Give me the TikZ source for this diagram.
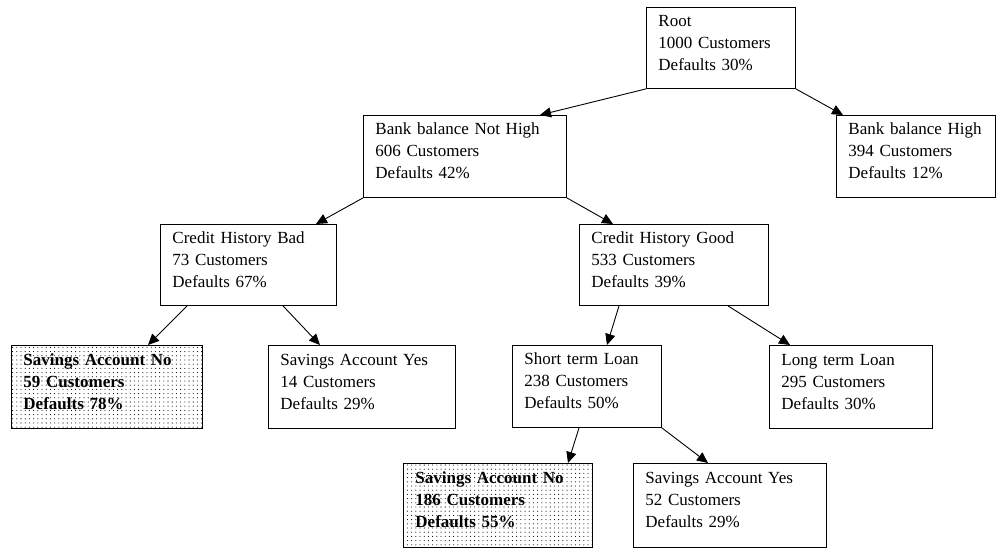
\documentclass[tikz,border=0pt]{standalone}
\usepackage{fontspec}
\setmainfont{Liberation Serif}
\usetikzlibrary{arrows.meta,patterns.meta,calc}
\begin{document}
\begin{tikzpicture}[x=1pt,y=-1pt,
  box/.style={draw=black, line width=0.9pt, rectangle, anchor=north west, inner xsep=12pt, inner ysep=0pt,
     align=left, font=\fontsize{17}{22}\selectfont, execute at end node={\rule[-11pt]{0pt}{1pt}}},
  leaf/.style={box, pattern={Dots[distance=4.2pt,radius=0.55pt]}, pattern color=black, font=\fontsize{17}{22}\selectfont\bfseries},
  conn/.style={draw=black, line width=0.9pt, -{Triangle[length=11pt,width=10pt]}}]
\useasboundingbox (0,0) rectangle (1001,549);
\node[box, minimum width=149pt, minimum height=81pt, text width=125pt] (root) at (646,7) {Root\\1000 Customers\\Defaults 30\%};
\node[box, minimum width=203pt, minimum height=82pt, text width=179pt] (nh) at (363,115) {Bank balance Not High\\606 Customers\\Defaults 42\%};
\node[box, minimum width=159pt, minimum height=82pt, text width=135pt] (hi) at (836,115) {Bank balance High\\394 Customers\\Defaults 12\%};
\node[box, minimum width=176pt, minimum height=81pt, text width=152pt] (cb) at (160,224) {Credit History Bad\\73 Customers\\Defaults 67\%};
\node[box, minimum width=189pt, minimum height=81pt, text width=165pt] (cg) at (579,224) {Credit History Good\\533 Customers\\Defaults 39\%};
\node[leaf, minimum width=191pt, minimum height=83pt, text width=167pt] (sn1) at (11,345) {Savings Account No\\59 Customers\\Defaults 78\%};
\node[box, minimum width=187pt, minimum height=83pt, text width=163pt] (sy1) at (268,345) {Savings Account Yes\\14 Customers\\Defaults 29\%};
\node[box, minimum width=149pt, minimum height=82pt, text width=125pt] (st) at (512,345) {Short term Loan\\238 Customers\\Defaults 50\%};
\node[box, minimum width=163pt, minimum height=83pt, text width=139pt] (lt) at (769,345) {Long term Loan\\295 Customers\\Defaults 30\%};
\node[leaf, minimum width=189pt, minimum height=84pt, text width=165pt] (sn2) at (403,463) {Savings Account No\\186 Customers\\Defaults 55\%};
\node[box, minimum width=193pt, minimum height=84pt, text width=169pt] (sy2) at (633,463) {Savings Account Yes\\52 Customers\\Defaults 29\%};
\draw[conn] (root.south west) -- ([xshift=177pt]nh.north west);
\draw[conn] (root.south east) -- ([xshift=7pt]hi.north west);
\draw[conn] (nh.south west) -- ([xshift=156pt]cb.north west);
\draw[conn] (nh.south east) -- ([xshift=34pt]cg.north west);
\draw[conn] ([xshift=27pt]cb.south west) -- ([xshift=137pt]sn1.north west);
\draw[conn] ([xshift=123pt]cb.south west) -- ([xshift=52pt]sy1.north west);
\draw[conn] ([xshift=40pt]cg.south west) -- ([xshift=95pt]st.north west);
\draw[conn] ([xshift=149pt]cg.south west) -- ([xshift=21pt]lt.north west);
\draw[conn] ([xshift=67pt]st.south west) -- ([xshift=165pt]sn2.north west);
\draw[conn] (st.south east) -- ([xshift=75pt]sy2.north west);
\end{tikzpicture}
\end{document}
